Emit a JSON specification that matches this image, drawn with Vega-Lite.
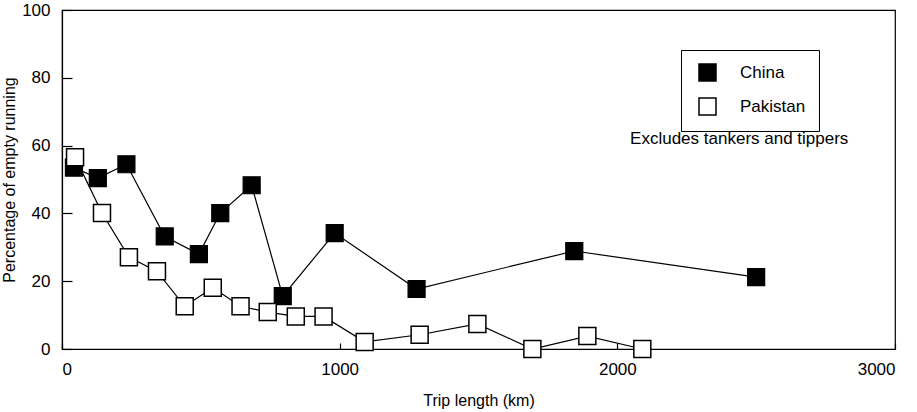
{
  "$schema": "https://vega.github.io/schema/vega-lite/v6.json",
  "width": 833,
  "height": 339,
  "autosize": {"type": "none"},
  "padding": {"left": 62, "top": 10, "right": 22, "bottom": 63},
  "background": "white",
  "config": {
    "font": "Liberation Sans",
    "view": {"stroke": "black", "strokeWidth": 1.2},
    "axis": {
      "domainColor": "black",
      "domainWidth": 1.2,
      "tickColor": "black",
      "tickWidth": 1.2,
      "labelColor": "black",
      "titleColor": "black",
      "labelFont": "Liberation Sans",
      "titleFont": "Liberation Sans",
      "labelFontSize": 17,
      "titleFontSize": 16,
      "titleFontWeight": "normal",
      "grid": false
    }
  },
  "datasets": {
    "pts": [
      {"series": "China", "trip": 43, "pct": 53.5},
      {"series": "China", "trip": 129, "pct": 50.4},
      {"series": "China", "trip": 232, "pct": 54.5},
      {"series": "China", "trip": 370, "pct": 33.2},
      {"series": "China", "trip": 493, "pct": 28},
      {"series": "China", "trip": 570, "pct": 40.1},
      {"series": "China", "trip": 683, "pct": 48.3},
      {"series": "China", "trip": 795, "pct": 15.6},
      {"series": "China", "trip": 982, "pct": 34.2},
      {"series": "China", "trip": 1277, "pct": 17.7},
      {"series": "China", "trip": 1845, "pct": 28.9},
      {"series": "China", "trip": 2500, "pct": 21.2},
      {"series": "Pakistan", "trip": 47, "pct": 56.6},
      {"series": "Pakistan", "trip": 144, "pct": 40.1},
      {"series": "Pakistan", "trip": 241, "pct": 27.1},
      {"series": "Pakistan", "trip": 342, "pct": 22.9},
      {"series": "Pakistan", "trip": 442, "pct": 12.6},
      {"series": "Pakistan", "trip": 543, "pct": 18.1},
      {"series": "Pakistan", "trip": 643, "pct": 12.6},
      {"series": "Pakistan", "trip": 741, "pct": 10.9},
      {"series": "Pakistan", "trip": 842, "pct": 9.6},
      {"series": "Pakistan", "trip": 942, "pct": 9.6},
      {"series": "Pakistan", "trip": 1090, "pct": 2.1},
      {"series": "Pakistan", "trip": 1288, "pct": 4.2},
      {"series": "Pakistan", "trip": 1496, "pct": 7.4},
      {"series": "Pakistan", "trip": 1694, "pct": 0},
      {"series": "Pakistan", "trip": 1892, "pct": 3.8},
      {"series": "Pakistan", "trip": 2090, "pct": 0}
    ],
    "note": [
      {"trip": 2439, "pct": 62, "label": "Excludes tankers and tippers"}
    ]
  },
  "layer": [
    {
      "data": {"name": "pts"},
      "mark": {"type": "line", "color": "black", "strokeWidth": 1.2},
      "encoding": {
        "x": {
          "field": "trip", "type": "quantitative",
          "scale": {"domain": [0, 3000], "nice": false},
          "axis": {"title": "Trip length (km)", "values": [0, 1000, 2000, 3000], "tickSize": -6, "labelPadding": 18, "titlePadding": 15, "format": "d"}
        },
        "y": {
          "field": "pct", "type": "quantitative",
          "scale": {"domain": [0, 100], "nice": false},
          "axis": {"title": "Percentage of empty running", "values": [0, 20, 40, 60, 80, 100], "tickSize": -10, "labelPadding": 22, "titlePadding": 4}
        },
        "detail": {"field": "series"}
      }
    },
    {
      "data": {"name": "pts"},
      "transform": [{"filter": "datum.series === 'China'"}],
      "mark": {"type": "point", "shape": "square", "size": 289, "filled": true, "stroke": "black", "strokeWidth": 1.2, "opacity": 1},
      "encoding": {
        "x": {"field": "trip", "type": "quantitative"},
        "y": {"field": "pct", "type": "quantitative"},
        "fill": {
          "field": "series", "type": "nominal",
          "scale": {"domain": ["China", "Pakistan"], "range": ["black", "white"]},
          "legend": {
            "title": null,
            "orient": "none",
            "legendX": 619,
            "legendY": 40,
            "strokeColor": "black",
            "fillColor": "white",
            "padding": 13,
            "symbolOffset": 4,
            "labelOffset": 23,
            "rowPadding": 11,
            "symbolType": "square",
            "symbolSize": 289,
            "symbolStrokeColor": "black",
            "symbolStrokeWidth": 1.5,
            "labelFont": "Liberation Sans",
            "labelFontSize": 17,
            "labelColor": "black"
          }
        }
      }
    },
    {
      "data": {"name": "pts"},
      "transform": [{"filter": "datum.series === 'Pakistan'"}],
      "mark": {"type": "point", "shape": "square", "size": 289, "filled": true, "stroke": "black", "strokeWidth": 1.5, "opacity": 1},
      "encoding": {
        "x": {"field": "trip", "type": "quantitative"},
        "y": {"field": "pct", "type": "quantitative"},
        "fill": {"field": "series", "type": "nominal"}
      }
    },
    {
      "data": {"name": "note"},
      "mark": {"type": "text", "font": "Liberation Sans", "fontSize": 17, "color": "black", "align": "center", "baseline": "middle"},
      "encoding": {
        "x": {"field": "trip", "type": "quantitative"},
        "y": {"field": "pct", "type": "quantitative"},
        "text": {"field": "label"}
      }
    }
  ]
}
